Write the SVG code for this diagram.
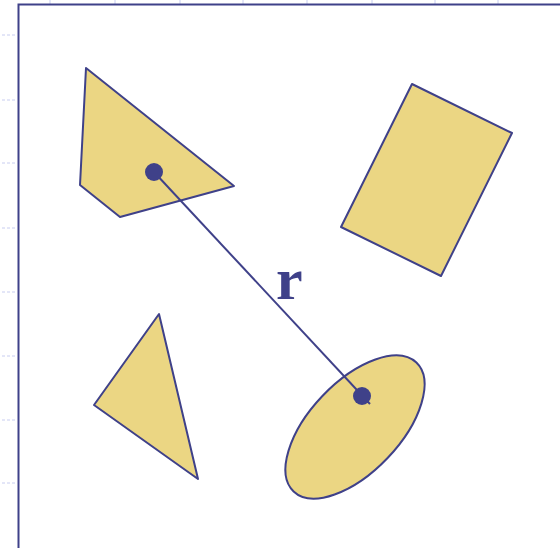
<svg xmlns="http://www.w3.org/2000/svg" width="560" height="548" viewBox="0 0 560 548">
<style>
.shape{fill:#ebd683;stroke:#3f4189;stroke-width:2;stroke-linejoin:round}
.dot{fill:#3f4189}
.tick{stroke:#c8cdf0;stroke-width:1}
</style>
<rect width="560" height="548" fill="#fff"/>
<g id="ticks">
<path class="tick" d="M50 0V4M115 0V4M180 0V4M243 0V4M307 0V4M372 0V4M435 0V4M498 0V4"/>
<path class="tick" d="M2 35H16M2 100H16M2 163H16M2 228H16M2 292H16M2 356H16M2 420H16M2 483H16" stroke-dasharray="3 2"/>
</g>
<g id="frame"><path d="M18.5 548V4.5H562" fill="none" stroke="#3f4189" stroke-width="2"/></g>
<g id="quad"><polygon class="shape" points="86,68 234,186 120,217 80,185"/></g>
<g id="rect"><polygon class="shape" points="412,84 512,133 441,276 341,227"/></g>
<g id="tri"><polygon class="shape" points="159,314 198,479 94,405"/></g>
<g id="ellipse"><ellipse class="shape" cx="355" cy="427" rx="89" ry="45" transform="rotate(-46.4 355 427)"/></g>
<g id="connectors"><line x1="154" y1="172" x2="370" y2="404" stroke="#3f4189" stroke-width="2"/></g>
<g id="dots"><circle class="dot" cx="154" cy="172" r="9"/><circle class="dot" cx="362" cy="396" r="9"/></g>
<g id="label"><text x="276" y="299" font-family="Liberation Serif, serif" font-weight="bold" font-size="60" fill="#3f4189">r</text></g>
</svg>
